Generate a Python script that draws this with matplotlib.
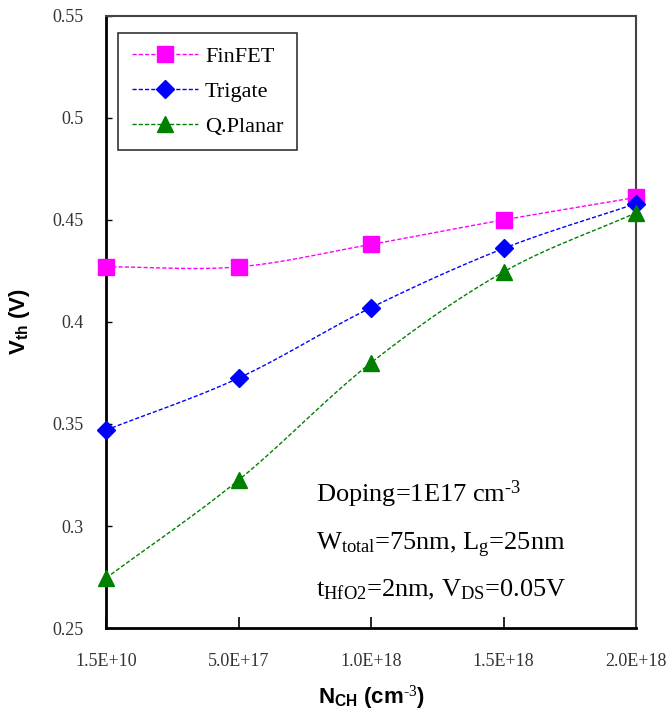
import numpy as np
import matplotlib
matplotlib.use("Agg")
import matplotlib.pyplot as plt

categories = ["1.5E+10", "5.0E+17", "1.0E+18", "1.5E+18", "2.0E+18"]
finfet = [0.427, 0.427, 0.438, 0.450, 0.461]
trigate = [0.347, 0.3725, 0.407, 0.436, 0.458]
qplanar = [0.2745, 0.3225, 0.380, 0.4245, 0.4535]
y_ticks = [0.25, 0.3, 0.35, 0.4, 0.45, 0.5, 0.55]
y_tick_labels = ["0.25", "0.3", "0.35", "0.4", "0.45", "0.5", "0.55"]

SERIF = "Liberation Serif"
SANS = "Liberation Sans"

plt.rcParams["mathtext.fontset"] = "custom"
plt.rcParams["mathtext.bf"] = "Liberation Sans:bold"
plt.rcParams["mathtext.rm"] = "Liberation Serif"
plt.rcParams["mathtext.it"] = "Liberation Serif:italic"


def smooth(xs, ys, n=30):
    # Catmull-Rom style smoothing like an Excel "smoothed line"
    xs = np.asarray(xs, float)
    ys = np.asarray(ys, float)
    px = np.concatenate([[2 * xs[0] - xs[1]], xs, [2 * xs[-1] - xs[-2]]])
    py = np.concatenate([[2 * ys[0] - ys[1]], ys, [2 * ys[-1] - ys[-2]]])
    outx, outy = [], []
    t = np.linspace(0, 1, n)
    for i in range(1, len(px) - 2):
        for arr, out in ((px, outx), (py, outy)):
            p0, p1, p2, p3 = arr[i - 1], arr[i], arr[i + 1], arr[i + 2]
            out.extend(0.5 * ((2 * p1) + (-p0 + p2) * t
                              + (2 * p0 - 5 * p1 + 4 * p2 - p3) * t ** 2
                              + (-p0 + 3 * p1 - 3 * p2 + p3) * t ** 3))
    return np.array(outx), np.array(outy)


fig = plt.figure(figsize=(6.71, 7.17), dpi=100)
ax = fig.add_axes([0.158, 0.124, 0.79, 0.854])

x = np.arange(len(categories))
series = [
    ("FinFET", finfet, "#FF00FF", "s", 11),
    ("Trigate", trigate, "#0000FF", "D", 9.5),
    ("Q.Planar", qplanar, "#008000", "^", 12),
]
for name, vals, color, marker, ms in series:
    sx, sy = smooth(x, vals)
    ax.plot(sx, sy, color=color, lw=1.0, ls=(0, (3, 1.5)), zorder=2, clip_on=False)
    ax.plot(x, vals, ls="none", marker=marker, ms=ms, color=color, zorder=3, clip_on=False)
    ax.plot([], [], color=color, lw=1.0, ls=(0, (3, 1.5)), marker=marker, ms=ms, label=name)

ax.set_xlim(0, 4)
ax.set_ylim(0.25, 0.55)
ax.set_xticks(x)
ax.set_xticklabels(categories, fontfamily=SERIF, fontsize=13, color="#333333")
ax.set_yticks(y_ticks)
ax.set_yticklabels(y_tick_labels, fontfamily=SERIF, fontsize=13, color="#333333")
ax.tick_params(axis="x", direction="in", length=8, width=1.2, pad=18)
ax.tick_params(axis="y", direction="in", length=4, width=1.0, pad=16)

ax.spines["left"].set_linewidth(2)
ax.spines["bottom"].set_linewidth(2)
ax.spines["top"].set_color("#444444")
ax.spines["right"].set_color("#444444")
ax.spines["top"].set_linewidth(1.5)
ax.spines["right"].set_linewidth(1.5)

ax.set_ylabel(r"$\mathbf{V_{th}}$ (V)", fontfamily=SANS, fontweight="bold", fontsize=16, labelpad=15)
ax.set_xlabel(r"$\mathbf{N_{CH}}$ (cm$^{\mathbf{\text{-3}}}$)", fontfamily=SANS, fontweight="bold",
              fontsize=16, labelpad=10)

leg = ax.legend(loc="upper left", bbox_to_anchor=(0.023, 0.972), prop={"family": SERIF, "size": 16},
                frameon=True, fancybox=False, edgecolor="black", handlelength=3.0,
                borderpad=0.6, labelspacing=0.65, handletextpad=0.3, borderaxespad=0.0)
leg.get_frame().set_linewidth(1.2)

ann = dict(transform=ax.transAxes, fontfamily=SERIF, fontsize=19, ha="left", va="baseline")
ax.text(0.396, 0.206, r"Doping=1E17 cm$^{\text{-3}}$", **ann)
ax.text(0.396, 0.127, r"W$_{\rm total}$=75nm, L$_{\rm g}$=25nm", **ann)
ax.text(0.396, 0.051, r"t$_{\rm HfO2}$=2nm, V$_{\rm DS}$=0.05V", **ann)

fig.savefig("out.png", dpi=100)
